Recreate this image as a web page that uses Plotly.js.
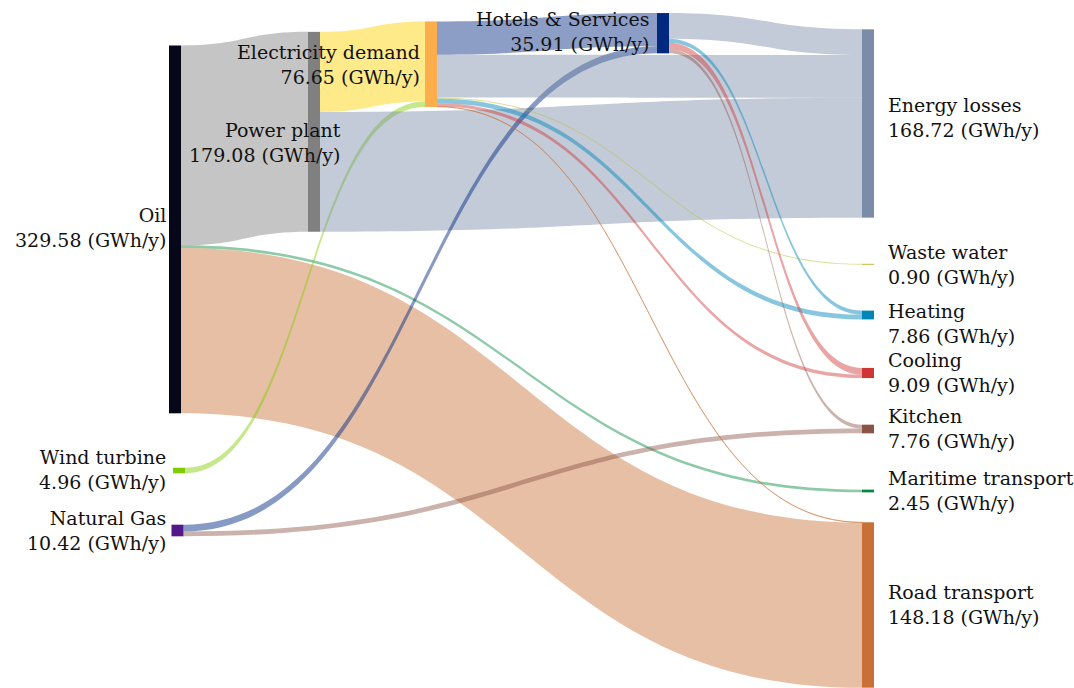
<!DOCTYPE html>
<html>
<head>
<meta charset="utf-8">
<script src="https://cdn.plot.ly/plotly-3.0.1.min.js"></script>
<style>
  html, body { margin: 0; padding: 0; background: #ffffff; }
  #chart { width: 1074px; height: 688px; }
</style>
</head>
<body>
<div id="chart"></div>
<script>
// ---------------- DATA ----------------
const nodeNames = ['Oil', 'Wind turbine', 'Natural Gas', 'Power plant', 'Electricity demand',
  'Hotels & Services', 'Energy losses', 'Waste water', 'Heating', 'Cooling', 'Kitchen',
  'Maritime transport', 'Road transport'];
const nodeTotals = [329.58, 4.96, 10.42, 179.08, 76.65, 35.91, 168.72, 0.90, 7.86, 9.09, 7.76, 2.45, 148.18];
const valueUnit = '(GWh/y)';

const linkSources = ['Oil', 'Oil', 'Oil', 'Wind turbine', 'Power plant', 'Power plant',
  'Natural Gas', 'Natural Gas', 'Electricity demand', 'Electricity demand', 'Electricity demand',
  'Electricity demand', 'Electricity demand', 'Electricity demand', 'Hotels & Services',
  'Hotels & Services', 'Hotels & Services', 'Hotels & Services'];
const linkTargets = ['Power plant', 'Maritime transport', 'Road transport', 'Electricity demand',
  'Electricity demand', 'Energy losses', 'Hotels & Services', 'Kitchen', 'Hotels & Services',
  'Energy losses', 'Heating', 'Cooling', 'Waste water', 'Road transport', 'Energy losses',
  'Heating', 'Cooling', 'Kitchen'];
const linkValues = [179.08, 2.45, 148.05, 4.96, 71.69, 107.39, 6.10, 4.32, 29.81, 38.31, 4.20,
  3.10, 0.90, 0.13, 23.02, 3.66, 5.99, 3.44];

// ---------------- STYLE / LAYOUT ----------------
const W = 1074, H = 688;
const nodeColors = ['#07071a', '#80cc00', '#55188a', '#808080', '#fbae4b', '#00297f', '#7b8ca8',
  '#b9c12e', '#0085b9', '#cf3535', '#8b5447', '#00893f', '#c87137'];
const linkColors = ['rgba(128,128,128,0.46)', 'rgba(0,137,63,0.45)', 'rgba(200,113,55,0.45)',
  'rgba(128,204,0,0.45)', 'rgba(255,214,30,0.52)', 'rgba(123,140,168,0.45)',
  'rgba(0,41,127,0.47)', 'rgba(139,84,71,0.45)', 'rgba(0,41,127,0.45)',
  'rgba(123,140,168,0.45)', 'rgba(0,133,185,0.47)', 'rgba(207,53,53,0.45)',
  'rgba(185,193,46,0.5)', 'rgba(200,113,55,0.45)', 'rgba(123,140,168,0.45)',
  'rgba(0,133,185,0.47)', 'rgba(207,53,53,0.45)', 'rgba(139,84,71,0.45)'];
// node centre positions in pixels
const nodeXpx = [175, 179, 177.5, 314, 431, 663, 868, 868, 868, 868, 868, 868, 868];
const nodeYpx = [229.4, 470.5, 530.5, 131.8, 64.2, 33.2, 123.5, 264.3, 315, 373, 429, 491, 605];
// label anchor positions in pixels, and side
const labelXpx = [167, 167, 167, 342, 421, 651, 887, 887, 887, 887, 887, 887, 887];
const labelYpx = [228, 469.5, 530, 142, 64.5, 31.5, 118, 264.5, 323.5, 372.5, 428.5, 490, 604.5];
const labelSide = ['left', 'left', 'left', 'left', 'left', 'left', 'right', 'right', 'right', 'right', 'right', 'right', 'right'];

const idx = name => nodeNames.indexOf(name);

const trace = {
  type: 'sankey',
  orientation: 'h',
  arrangement: 'fixed',
  domain: { x: [0, 1], y: [0, 1] },
  node: {
    label: nodeNames.map(() => ''),
    customdata: nodeNames,
    x: nodeXpx.map(v => v / W),
    y: nodeYpx.map(v => v / H),
    pad: 50.5,
    thickness: 12,
    color: nodeColors,
    line: { width: 0 },
    hoverinfo: 'none'
  },
  link: {
    source: linkSources.map(idx),
    target: linkTargets.map(idx),
    value: linkValues,
    color: linkColors,
    line: { width: 0 },
    hoverinfo: 'none'
  }
};

const labelFont = { family: 'DejaVu Serif, serif', size: 19, color: '#111111' };
const annotations = nodeNames.map((name, i) => ({
  x: labelXpx[i] / W,
  y: 1 - labelYpx[i] / H,
  xref: 'paper', yref: 'paper',
  xanchor: labelSide[i] === 'left' ? 'right' : 'left',
  yanchor: 'middle',
  align: labelSide[i] === 'left' ? 'right' : 'left',
  showarrow: false,
  borderpad: 0,
  text: name + '<br>' + nodeTotals[i].toFixed(2) + ' ' + valueUnit,
  font: labelFont
}));

const layout = {
  width: W, height: H,
  margin: { l: 0, r: 0, t: 0, b: 0 },
  paper_bgcolor: '#ffffff',
  font: labelFont,
  annotations: annotations,
  showlegend: false
};

Plotly.newPlot('chart', [trace], layout, { displayModeBar: false, staticPlot: true });
</script>
</body>
</html>
